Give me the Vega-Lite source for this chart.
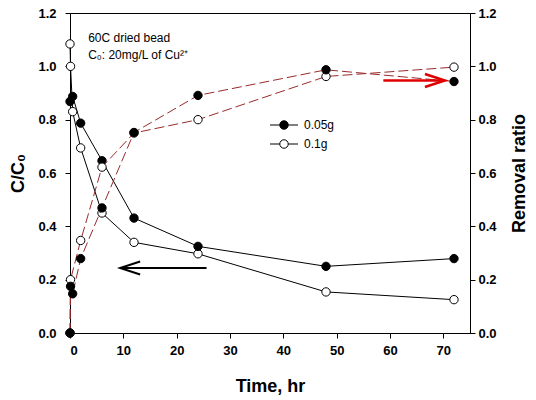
{
  "$schema": "https://vega.github.io/schema/vega-lite/v6.json",
  "width": 400,
  "height": 320,
  "autosize": {"type": "none"},
  "padding": {"left": 70, "top": 13, "right": 66, "bottom": 67},
  "background": "white",
  "datasets": {
    "series": [
      {"t": 0, "v": 1.084, "sample": "0.1g", "measure": "C/C0"},
      {"t": 0.1, "v": 1.0, "sample": "0.1g", "measure": "C/C0"},
      {"t": 0.5, "v": 0.83, "sample": "0.1g", "measure": "C/C0"},
      {"t": 2, "v": 0.694, "sample": "0.1g", "measure": "C/C0"},
      {"t": 6, "v": 0.45, "sample": "0.1g", "measure": "C/C0"},
      {"t": 12, "v": 0.34, "sample": "0.1g", "measure": "C/C0"},
      {"t": 24, "v": 0.297, "sample": "0.1g", "measure": "C/C0"},
      {"t": 48, "v": 0.154, "sample": "0.1g", "measure": "C/C0"},
      {"t": 72, "v": 0.125, "sample": "0.1g", "measure": "C/C0"},
      {"t": 0, "v": 0, "sample": "0.1g", "measure": "Removal"},
      {"t": 0.1, "v": 0.2, "sample": "0.1g", "measure": "Removal"},
      {"t": 2, "v": 0.347, "sample": "0.1g", "measure": "Removal"},
      {"t": 6, "v": 0.622, "sample": "0.1g", "measure": "Removal"},
      {"t": 12, "v": 0.75, "sample": "0.1g", "measure": "Removal"},
      {"t": 24, "v": 0.8, "sample": "0.1g", "measure": "Removal"},
      {"t": 48, "v": 0.962, "sample": "0.1g", "measure": "Removal"},
      {"t": 72, "v": 0.997, "sample": "0.1g", "measure": "Removal"},
      {"t": 0, "v": 0.868, "sample": "0.05g", "measure": "C/C0"},
      {"t": 0.5, "v": 0.887, "sample": "0.05g", "measure": "C/C0"},
      {"t": 2, "v": 0.787, "sample": "0.05g", "measure": "C/C0"},
      {"t": 6, "v": 0.646, "sample": "0.05g", "measure": "C/C0"},
      {"t": 12, "v": 0.431, "sample": "0.05g", "measure": "C/C0"},
      {"t": 24, "v": 0.325, "sample": "0.05g", "measure": "C/C0"},
      {"t": 48, "v": 0.25, "sample": "0.05g", "measure": "C/C0"},
      {"t": 72, "v": 0.279, "sample": "0.05g", "measure": "C/C0"},
      {"t": 0, "v": 0, "sample": "0.05g", "measure": "Removal"},
      {"t": 0.1, "v": 0.175, "sample": "0.05g", "measure": "Removal"},
      {"t": 0.5, "v": 0.147, "sample": "0.05g", "measure": "Removal"},
      {"t": 2, "v": 0.279, "sample": "0.05g", "measure": "Removal"},
      {"t": 6, "v": 0.469, "sample": "0.05g", "measure": "Removal"},
      {"t": 12, "v": 0.752, "sample": "0.05g", "measure": "Removal"},
      {"t": 24, "v": 0.891, "sample": "0.05g", "measure": "Removal"},
      {"t": 48, "v": 0.987, "sample": "0.05g", "measure": "Removal"},
      {"t": 72, "v": 0.943, "sample": "0.05g", "measure": "Removal"}
    ],
    "notes": [
      {"t": 3.4, "v": 1.106, "label": "60C dried bead"},
      {"t": 3.4, "v": 1.044, "label": "C₀: 20mg/L of Cu²⁺"}
    ],
    "arrows": [
      {"t": 25.6, "t2": 9.4, "v": 0.244, "arrow": "black"},
      {"t": 58.75, "t2": 70.3, "v": 0.947, "arrow": "red"}
    ]
  },
  "layer": [
    {
      "layer": [
        {
          "data": {"name": "series"},
          "transform": [{"filter": "datum.measure == 'C/C0'"}],
          "mark": {"type": "line", "color": "black", "strokeWidth": 1},
          "encoding": {
            "x": {"field": "t", "type": "quantitative", "title": "Time, hr", "scale": {"domain": [0, 75], "nice": false}, "axis": {"values": [0, 10, 20, 30, 40, 50, 60, 70], "labelPadding": 6, "titlePadding": 20}},
            "y": {"field": "v", "type": "quantitative", "title": "C/C₀", "scale": {"domain": [0, 1.2], "nice": false}, "axis": {"orient": "left", "values": [0, 0.2, 0.4, 0.6, 0.8, 1.0, 1.2], "format": ".1f", "labelPadding": 9, "titlePadding": 10}},
            "detail": {"field": "sample"}
          }
        },
        {
          "data": {"name": "series"},
          "transform": [{"filter": "datum.measure == 'C/C0'"}],
          "mark": {"type": "circle", "size": 70, "stroke": "black", "strokeWidth": 1, "opacity": 1},
          "encoding": {
            "x": {"field": "t", "type": "quantitative", "title": "Time, hr"},
            "y": {"field": "v", "type": "quantitative", "title": "C/C₀"},
            "fill": {"field": "sample", "type": "nominal", "scale": {"domain": ["0.05g", "0.1g"], "range": ["black", "white"]}, "legend": {"title": null}}
          }
        },
        {
          "data": {"name": "notes"},
          "mark": {"type": "text", "align": "left", "baseline": "middle", "fontSize": 12, "font": "Liberation Sans", "color": "black"},
          "encoding": {
            "x": {"field": "t", "type": "quantitative", "title": "Time, hr"},
            "y": {"field": "v", "type": "quantitative", "title": "C/C₀"},
            "text": {"field": "label"}
          }
        },
        {
          "data": {"name": "arrows"},
          "transform": [{"filter": "datum.arrow == 'black'"}],
          "mark": {"type": "rule", "color": "black", "strokeWidth": 2},
          "encoding": {
            "x": {"field": "t", "type": "quantitative", "title": "Time, hr"},
            "x2": {"field": "t2"},
            "y": {"field": "v", "type": "quantitative", "title": "C/C₀"}
          }
        },
        {
          "data": {"name": "arrows"},
          "transform": [{"filter": "datum.arrow == 'black'"}],
          "mark": {"type": "point", "shape": "M2,-0.65L0,0L2,0.65", "size": 400, "filled": false, "color": "black", "strokeWidth": 2, "opacity": 1},
          "encoding": {
            "x": {"field": "t2", "type": "quantitative", "title": "Time, hr"},
            "y": {"field": "v", "type": "quantitative", "title": "C/C₀"}
          }
        }
      ]
    },
    {
      "layer": [
        {
          "data": {"name": "series"},
          "transform": [{"filter": "datum.measure == 'Removal'"}],
          "mark": {"type": "line", "color": "#992b2b", "strokeWidth": 1, "strokeDash": [10, 4]},
          "encoding": {
            "x": {"field": "t", "type": "quantitative", "title": "Time, hr"},
            "y": {"field": "v", "type": "quantitative", "title": "Removal ratio", "scale": {"domain": [0, 1.2], "nice": false}, "axis": {"orient": "right", "values": [0, 0.2, 0.4, 0.6, 0.8, 1.0, 1.2], "format": ".1f", "labelPadding": 3, "titlePadding": 14, "titleAngle": 270, "titleBaseline": "top"}},
            "detail": {"field": "sample"}
          }
        },
        {
          "data": {"name": "series"},
          "transform": [{"filter": "datum.measure == 'Removal'"}],
          "mark": {"type": "circle", "size": 70, "stroke": "black", "strokeWidth": 1, "opacity": 1},
          "encoding": {
            "x": {"field": "t", "type": "quantitative", "title": "Time, hr"},
            "y": {"field": "v", "type": "quantitative", "title": "Removal ratio"},
            "fill": {"field": "sample", "type": "nominal", "scale": {"domain": ["0.05g", "0.1g"], "range": ["black", "white"]}, "legend": {"title": null}}
          }
        },
        {
          "data": {"name": "arrows"},
          "transform": [{"filter": "datum.arrow == 'red'"}],
          "mark": {"type": "rule", "color": "#e00000", "strokeWidth": 2.5},
          "encoding": {
            "x": {"field": "t", "type": "quantitative", "title": "Time, hr"},
            "x2": {"field": "t2"},
            "y": {"field": "v", "type": "quantitative", "title": "Removal ratio"}
          }
        },
        {
          "data": {"name": "arrows"},
          "transform": [{"filter": "datum.arrow == 'red'"}],
          "mark": {"type": "point", "shape": "M-2,-0.65L0,0L-2,0.65", "size": 400, "filled": false, "color": "#e00000", "strokeWidth": 2.5, "opacity": 1},
          "encoding": {
            "x": {"field": "t2", "type": "quantitative", "title": "Time, hr"},
            "y": {"field": "v", "type": "quantitative", "title": "Removal ratio"}
          }
        }
      ]
    }
  ],
  "resolve": {"scale": {"y": "independent"}},
  "config": {
    "view": {"stroke": "black", "strokeWidth": 1},
    "axis": {
      "grid": false,
      "domainColor": "black",
      "domainWidth": 1,
      "tickColor": "black",
      "tickSize": 5,
      "labelFont": "Liberation Sans",
      "labelFontSize": 13,
      "labelFontWeight": "bold",
      "labelColor": "black",
      "titleFont": "Liberation Sans",
      "titleFontSize": 18,
      "titleFontWeight": "bold",
      "titleColor": "black"
    },
    "legend": {
      "orient": "none",
      "legendX": 208,
      "legendY": 106,
      "padding": 0,
      "symbolType": "M-2.8,0L-0.85,0M0.85,0L2.8,0M-0.85,0A0.85,0.85,0,1,1,0.85,0A0.85,0.85,0,1,1,-0.85,0Z",
      "symbolSize": 100,
      "symbolStrokeColor": "black",
      "symbolStrokeWidth": 1,
      "symbolOpacity": 1,
      "labelFont": "Liberation Sans",
      "labelFontSize": 12,
      "labelColor": "black",
      "labelOffset": 14,
      "rowPadding": 5
    }
  }
}
